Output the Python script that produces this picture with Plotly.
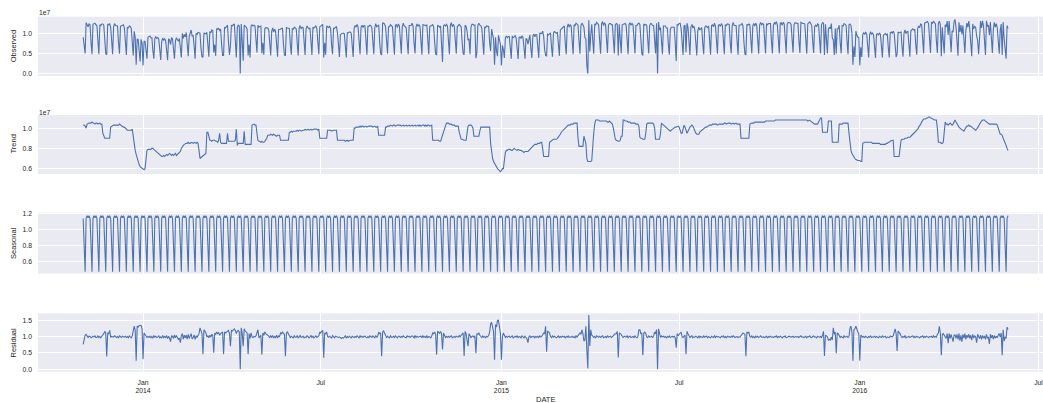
import pandas as pd
import plotly.graph_objects as go

START = "2013-11-01"

# Observed series, units of 1e5 (one row = one week, Fri..Thu)
OBSERVED_1E5 = [
90,74,50,126,121,116,123, 121,78,48,122,123,125,121, 119,82,48,121,119,123,123, 120,80,49,47,123,121,123,
115,80,48,116,124,119,119, 118,76,49,117,119,120,121, 113,78,46,115,113,118,117, 112,75,45,105,90,22,85,
85,55,30,85,75,20,80, 80,60,37,90,91,93,89, 89,57,37,87,91,87,89, 85,53,34,80,88,82,86,
82,58,33,86,83,72,89, 86,53,37,81,89,84,80, 87,50,40,100,87,97,91, 102,60,43,92,101,108,93,
94,69,37,100,97,102,100, 100,63,42,40,101,99,99, 102,66,42,104,101,108,106, 52,72,44,112,110,112,107,
110,73,45,45,115,113,118, 120,78,46,70,120,118,122, 122,78,40,115,120,118,0, 123,74,32,120,118,115,110,
45,72,40,118,121,118,120, 118,80,52,120,115,117,118, 50,76,47,112,114,113,113, 108,69,45,105,113,103,110,
104,74,42,109,109,110,112, 112,73,46,44,114,113,113, 112,72,47,111,110,115,112, 111,76,45,113,119,111,115,
114,72,46,110,118,114,111, 113,78,46,115,113,115,119, 111,76,48,116,118,120,122, 40,76,47,118,116,114,117,
112,71,48,112,112,115,116, 101,66,41,97,99,100,100, 99,69,40,101,101,103,103, 100,66,41,113,119,115,122,
115,75,48,114,120,114,119, 118,77,47,117,117,120,119, 114,80,48,113,124,116,120, 121,78,49,46,125,125,123,
116,76,49,116,116,121,118, 116,80,47,120,121,114,123, 119,76,49,116,125,118,117, 113,80,48,119,119,119,125,
118,76,50,115,123,117,121, 117,80,47,121,120,119,119, 120,76,48,117,118,119,122, 115,78,48,47,120,118,115,
118,78,29,118,121,118,122, 118,81,48,120,126,116,122, 117,76,49,116,118,122,119, 116,77,49,47,120,117,105,
83,86,48,115,122,122,120, 120,38,52,120,125,120,119, 113,79,47,116,114,118,118, 117,77,56,110,100,85,22,
90,55,43,95,85,72,20, 70,59,39,88,93,89,92, 92,59,37,93,89,91,94, 88,61,36,90,91,87,94,
89,57,37,87,85,73,91, 96,61,39,93,98,91,97, 96,66,39,100,99,99,105, 93,60,45,44,99,96,100,
101,66,42,100,105,101,100, 103,70,44,108,111,114,115, 118,75,48,115,123,115,121, 118,82,48,121,119,125,122,
120,80,49,120,125,121,115, 90,86,20,0,132,55,96, 122,83,49,123,121,127,125, 121,83,49,123,129,119,125,
122,79,51,120,124,124,121, 121,81,50,121,124,122,45, 122,80,50,121,122,124,124, 120,83,48,122,126,120,124,
121,78,50,119,119,123,125, 122,78,49,45,123,120,122, 120,78,50,119,124,123,119, 119,80,50,125,0,128,108,
114,80,48,118,118,118,113, 113,73,47,110,115,115,114, 115,77,31,122,120,124,125, 112,72,46,118,120,53,125,
115,78,46,116,122,113,118, 108,74,45,106,115,108,113, 114,75,48,113,118,117,114, 118,77,47,119,121,116,125,
117,81,49,120,121,117,124, 120,82,48,121,119,123,123, 122,78,50,118,127,119,120, 119,81,47,120,120,121,124,
118,78,48,47,122,120,123, 121,79,50,118,124,118,125, 120,82,49,121,127,121,124, 122,79,50,124,121,124,124,
124,80,50,120,126,123,129, 121,83,50,125,126,120,127, 123,84,50,122,127,126,126, 122,82,52,121,126,125,125,
124,80,51,127,125,124,124, 123,84,49,123,126,128,124, 119,80,51,117,120,116,123, 121,80,50,121,126,125,46,
122,80,50,110,115,111,124, 88,84,46,112,49,111,111, 120,77,50,119,118,124,121, 120,80,48,121,123,119,100,
22,67,41,105,95,90,90, 20,65,41,97,101,97,103, 98,63,40,97,104,97,101, 96,66,39,98,99,95,101,
97,63,40,95,98,99,96, 99,65,40,101,103,100,105, 100,67,41,48,103,101,103, 103,67,42,100,108,99,104,
104,71,42,106,109,111,108, 109,71,47,112,118,114,123, 121,84,50,125,126,128,129, 124,85,51,128,124,130,127,
123,81,51,124,130,122,43, 115,78,50,121,116,130,96, 130,76,53,106,103,129,134, 115,85,44,127,103,120,97,
119,71,51,106,125,115,130, 110,81,43,123,111,117,115, 93,82,48,113,130,113,131, 118,85,46,131,117,120,95,
128,77,51,110,127,115,124, 114,80,49,107,123,46,128, 87,65,37,119,112,
]

# Trend series, units of 1e5
TREND_1E5 = [
103,103,102,100,104,105,105, 105,105,106,105,105,104,105, 105,104,105,105,104,104,95, 93,90,90,90,90,90,90,
101,102,102,103,103,103,103, 103,103,104,103,102,102,101, 101,100,98,98,98,98,98, 98,99,90,82,78,74,70,
66,64,62,61,60,59,59, 60,72,78,79,79,79,79, 80,80,79,78,77,76,75, 74,73,72,72,72,73,72,
73,74,73,74,75,74,73, 74,73,74,75,73,74,75, 76,77,80,82,83,84,85, 85,85,86,85,85,86,85,
85,86,85,85,86,85,78, 70,71,72,73,74,74,75, 96,96,92,88,88,87,88, 88,88,87,87,86,88,95,
86,85,85,85,85,85,85, 95,87,87,87,87,87,87, 87,88,99,83,85,85,85, 85,85,85,97,84,84,84,
84,84,84,84,103,104,104, 103,103,95,88,87,87,86, 87,86,86,87,88,90,93, 93,93,94,93,93,94,93,
93,92,93,93,93,88,88, 88,88,88,88,88,88,88, 96,96,97,96,97,97,97, 97,98,97,98,98,97,98,
98,98,99,98,99,99,98, 99,99,98,99,99,99,99, 99,98,99,90,90,90,90, 90,90,90,90,98,98,98,
98,97,98,98,98,98,98, 88,88,88,88,88,88,88, 88,87,88,88,87,88,88, 88,88,88,100,100,101,101,
101,101,102,101,102,102,101, 102,102,101,102,102,102,102, 102,101,102,102,101,101,102, 93,93,93,93,93,93,93,
101,101,102,102,102,103,102, 102,103,103,102,103,103,103, 103,103,102,103,103,102,103, 103,102,103,103,102,103,103,
102,103,103,102,103,103,102, 103,102,103,103,103,102,103, 102,103,103,102,103,103,88, 88,88,88,88,88,88,87,
87,90,93,95,98,102,105, 105,105,104,104,104,103,103, 103,102,102,102,102,96,91, 89,89,88,88,88,88,95,
102,103,103,103,102,100,92, 92,92,92,92,92,97,101, 101,101,101,101,101,101,101, 101,101,85,75,70,67,65,
63,62,60,59,58,57,58, 60,60,70,76,78,78,79, 79,79,78,78,79,80,79, 78,78,79,78,78,78,77,
77,76,77,77,77,77,78, 79,81,82,83,83,84,84, 84,85,85,85,86,86,80, 72,72,72,72,72,72,86,
87,88,88,89,89,89,89, 90,91,93,94,96,97,98, 100,101,102,102,103,103,103, 104,104,104,105,105,105,105,
90,82,82,82,82,82,92, 88,85,70,67,67,67,67, 68,85,95,104,108,108,108, 108,107,107,107,107,107,107,
107,107,106,106,107,106,105, 104,100,93,89,88,87,87, 87,88,92,92,108,108,107, 107,107,106,106,106,105,105,
105,105,105,104,104,104,102, 91,90,90,89,89,89,95, 104,105,105,105,105,105,105, 104,100,89,89,89,89,89,
95,105,104,103,102,101,100, 99,98,97,97,98,99,100, 100,101,101,102,102,101,98, 95,95,100,103,101,97,95,
97,100,101,102,103,102,99, 97,95,94,94,94,96,97, 98,99,100,100,101,101,102, 102,103,103,103,104,104,104,
104,104,103,104,104,104,104, 104,104,105,105,104,105,105, 105,105,104,105,105,104,105, 105,104,104,104,104,90,90,
90,90,90,90,90,90,90, 104,105,105,105,105,106,106, 106,106,106,106,106,106,106, 106,106,107,107,107,107,107,
107,107,107,107,107,108,108, 108,108,108,108,108,108,108, 108,108,108,108,108,108,108, 108,108,108,108,108,108,108,
108,108,108,108,108,108,108, 108,108,108,107,108,108,107, 106,105,105,104,104,104,104, 106,108,110,110,96,96,96,
96,96,96,107,107,107,107, 86,86,86,86,86,86,86, 104,104,104,104,105,105,105, 105,105,105,95,82,78,75,
73,72,70,69,68,68,68, 68,67,67,85,86,86,86, 86,86,86,86,86,86,85, 85,85,85,85,85,85,85,
84,84,84,84,84,84,85, 85,86,86,87,88,88,88, 72,72,72,72,72,72,80, 88,89,89,89,90,90,90,
91,91,91,92,93,94,95, 95,96,97,99,101,102,104, 106,108,109,109,109,110,110, 111,111,110,110,109,109,108,
108,108,100,86,86,86,85, 85,86,95,106,104,104,103, 104,105,104,103,104,107,108, 106,104,102,101,100,99,98,
97,97,99,101,102,102,103, 102,102,101,100,99,99,98, 99,100,102,104,106,107,108, 108,108,107,106,105,104,104,
104,104,104,104,104,104,104, 103,100,95,94,94,93,90, 88,86,83,80,78,
]

# Residual series, in hundredths
RESIDUAL_PCT = [
77,95,105,108,100,98,102, 101,97,99,102,100,103,98, 99,103,98,101,97,102,105, 110,117,112,39,112,110,120,
98,102,100,99,103,101,98, 101,97,103,100,98,102,100, 99,102,98,101,97,103,100, 97,103,125,133,120,26,133,
130,135,135,135,125,31,112, 107,103,98,101,99,102,97, 101,96,103,99,102,98,100, 103,97,100,96,104,98,101,
98,104,95,102,96,85,103, 102,95,106,97,103,99,92, 96,82,104,110,93,105,97, 105,93,108,95,102,110,94,
97,106,92,103,98,104,110, 128,115,110,46,122,118,112, 100,103,97,105,99,108,104, 51,112,108,115,110,113,105,
110,112,115,46,115,112,115, 115,120,110,71,120,118,122, 125,120,110,118,120,115,0, 128,110,71,125,118,115,112,
46,110,95,112,100,98,101, 100,103,112,122,97,102,105, 45,112,105,115,110,108,104, 102,97,103,99,104,96,101,
98,105,96,103,100,112,110, 115,110,108,40,112,115,110, 101,98,102,100,97,103,99, 99,103,97,101,104,98,100,
102,97,100,98,103,101,97, 100,104,98,102,97,101,103, 98,101,103,115,112,118,120, 35,112,110,115,101,99,102,
99,96,104,100,97,102,101, 101,98,100,97,95,98,96, 99,103,96,101,98,102,100, 97,102,100,98,101,99,103,
100,97,103,99,102,98,101, 102,99,97,101,98,103,100, 98,103,100,97,104,99,101, 115,110,112,40,115,118,112,
101,98,102,100,97,103,99, 99,102,98,103,100,97,102, 102,98,101,99,103,100,97, 97,103,100,102,98,101,103,
101,97,104,98,102,99,100, 100,102,97,103,99,101,98, 103,98,101,100,97,102,112, 110,115,108,45,117,115,110,
117,110,61,112,103,98,101, 99,102,98,101,103,97,100, 101,98,102,100,99,104,100, 105,108,112,41,117,110,87,
71,110,100,98,101,103,99, 103,49,110,108,112,105,101, 98,103,99,101,97,102,100, 104,115,141,145,130,115,29,
138,130,151,151,125,110,29, 100,112,105,98,102,99,101, 102,98,101,103,97,100,102, 99,103,98,101,100,97,103,
101,97,102,99,94,82,100, 103,98,101,100,102,97,101, 99,102,98,103,100,101,110, 112,110,133,54,118,115,112,
101,98,103,99,102,100,97, 100,103,98,101,99,102,100, 102,97,101,99,103,98,100, 99,102,98,101,97,103,99,
105,110,112,108,122,110,87, 90,133,60,2,168,72,122, 105,102,98,101,97,103,100, 99,102,98,101,103,97,100,
101,98,103,99,100,102,98, 100,103,108,110,110,117,36, 112,110,108,101,98,102,100, 99,103,97,101,102,98,100,
101,98,103,99,97,102,122, 122,110,112,43,112,115,110, 100,98,103,99,101,102,97, 103,115,110,122,0,125,105,
98,103,100,102,99,101,97, 101,99,103,98,100,102,99, 102,98,66,110,103,108,112, 115,100,98,102,105,46,117,
110,102,98,101,103,97,100, 99,102,100,97,103,98,101, 100,98,103,99,101,102,97, 101,99,97,102,100,98,103,
98,102,100,101,99,97,102, 100,103,98,101,97,102,100, 101,98,102,99,103,99,98, 100,101,98,100,99,105,110,
112,110,108,40,115,112,115, 101,99,103,98,101,97,102, 99,102,98,100,103,99,100, 100,98,101,102,97,101,99,
102,99,100,98,101,100,103, 98,101,99,102,100,97,101, 100,103,98,99,101,102,100, 99,100,102,98,100,101,99,
101,98,100,103,99,100,98, 100,102,97,101,100,103,99, 98,101,103,99,100,97,102, 100,99,101,98,104,117,41,
105,103,100,90,92,90,100, 90,128,108,115,49,112,110, 101,98,102,100,97,103,99, 100,102,98,101,128,133,115,
26,122,125,133,120,115,110, 26,105,102,99,101,98,102, 100,97,101,99,103,98,100, 99,102,98,101,100,97,102,
101,98,103,99,100,102,97, 100,99,98,102,101,100,103, 115,125,110,56,118,115,110, 102,98,101,99,103,97,100,
99,102,98,100,101,103,98, 101,98,102,99,100,97,101, 100,103,98,101,99,102,100, 98,101,100,102,97,103,99,
101,99,108,112,133,112,43, 108,110,105,100,95,110,80, 110,95,108,90,85,105,106, 95,108,92,110,88,105,85,
108,96,110,92,105,98,108, 95,105,90,108,96,103,100, 82,108,100,95,105,92,104, 96,103,92,108,95,100,78,
108,97,105,93,104,96,102, 97,105,110,100,112,43,122, 87,100,95,130,123,
]

# Seasonal weekly cycle (Fri..Thu)
SEASONAL_WEEK = [1.14, 0.76, 0.466, 1.14, 1.175, 1.15, 1.175]

TICK_DATES = ["2014-01-01", "2014-07-01", "2015-01-01", "2015-07-01", "2016-01-01", "2016-07-01"]
TICK_TEXT = ["Jan<br>2014", "Jul", "Jan<br>2015", "Jul", "Jan<br>2016", "Jul"]
PANEL_NAMES = ["Observed", "Trend", "Seasonal", "Residual"]

BLUE = "#4C72B0"
TXT = "#262626"
FONT = "Arial, Liberation Sans, sans-serif"
W, H = 1043, 403
ML = 38  # left margin in px


def days(n):
    return pd.date_range(START, periods=n, freq="D")


def px_x(px):
    # pixel x -> paper coordinate (paper spans the plot area)
    return (px - ML) / (W - ML)


obs = [v * 1e5 for v in OBSERVED_1E5]
trend = [v * 1e5 for v in TREND_1E5]
resid = [v / 100 for v in RESIDUAL_PCT]
n_season = len(OBSERVED_1E5)
seasonal = [SEASONAL_WEEK[i % 7] for i in range(n_season)]

series = [obs, trend, seasonal, resid]

# panel pixel extents (top, bottom)
panels_px = [(16.7, 76.0), (115.0, 174.0), (212.5, 273.5), (313.3, 371.7)]
yranges = [[-0.06e7, 1.41e7], [0.547e7, 1.13e7], [0.445, 1.215], [-0.08, 1.73]]
yticks = [
    ([0, 0.5e7, 1.0e7], ["0.0", "0.5", "1.0"]),
    ([0.6e7, 0.8e7, 1.0e7], ["0.6", "0.8", "1.0"]),
    ([0.6, 0.8, 1.0, 1.2], ["0.6", "0.8", "1.0", "1.2"]),
    ([0.0, 0.5, 1.0, 1.5], ["0.0", "0.5", "1.0", "1.5"]),
]

XRANGE = ["2013-09-16 00:00", "2016-07-05 14:00"]

fig = go.Figure()
layout = dict(
    width=W, height=H,
    margin=dict(l=ML, r=0, t=0, b=0, pad=0, autoexpand=False),
    paper_bgcolor="white", plot_bgcolor="#EAEAF2",
    showlegend=False,
    font=dict(family=FONT, color=TXT, size=7),
)

annotations = []
for i, (ys, (top, bot)) in enumerate(zip(series, panels_px)):
    idx = "" if i == 0 else str(i + 1)
    fig.add_trace(go.Scatter(
        x=days(len(ys)), y=ys, mode="lines",
        line=dict(color=BLUE, width=1.1),
        xaxis="x" + idx, yaxis="y" + idx, hoverinfo="skip",
    ))
    dom = [1 - bot / H, 1 - top / H]
    layout["xaxis" + idx] = dict(
        type="date", range=XRANGE, domain=[0, 1], anchor="y" + idx,
        tickvals=TICK_DATES, ticktext=TICK_TEXT,
        showticklabels=(i == 3), ticks="", automargin=False,
        showgrid=True, gridcolor="white", gridwidth=1,
        zeroline=False, showline=False,
        tickfont=dict(size=6.8, color=TXT, family=FONT),
        ticklabelstandoff=5, ticklabeloverflow="allow",
    )
    tv, tt = yticks[i]
    layout["yaxis" + idx] = dict(
        domain=dom, range=yranges[i], anchor="x" + idx,
        tickvals=tv, ticktext=tt, ticks="", automargin=False,
        showgrid=True, gridcolor="white", gridwidth=1,
        zeroline=False, showline=False,
        tickfont=dict(size=6.8, color=TXT, family=FONT),
        ticklabelstandoff=5,
    )
    annotations.append(dict(
        text=PANEL_NAMES[i], textangle=-90, xref="paper", yref="paper",
        x=px_x(13), y=1 - (top + bot) / 2 / H, xanchor="center", yanchor="middle",
        showarrow=False, font=dict(size=7.5, color=TXT, family=FONT),
    ))

for ypx in (12.3, 112.3):
    annotations.append(dict(
        text="1e7", xref="paper", yref="paper", x=px_x(37), y=1 - ypx / H,
        xanchor="left", yanchor="middle", showarrow=False,
        font=dict(size=6.8, color=TXT, family=FONT),
    ))

annotations.append(dict(
    text="DATE", xref="paper", yref="paper", x=px_x(545), y=1 - 399 / H,
    xanchor="center", yanchor="middle", showarrow=False,
    font=dict(size=7.5, color=TXT, family=FONT),
))

layout["annotations"] = annotations
fig.update_layout(**layout)
fig.write_html(
    "out.html",
    config={"displayModeBar": False, "staticPlot": True},
    post_script="document.body.style.margin='0px';document.body.style.padding='0px';",
)
